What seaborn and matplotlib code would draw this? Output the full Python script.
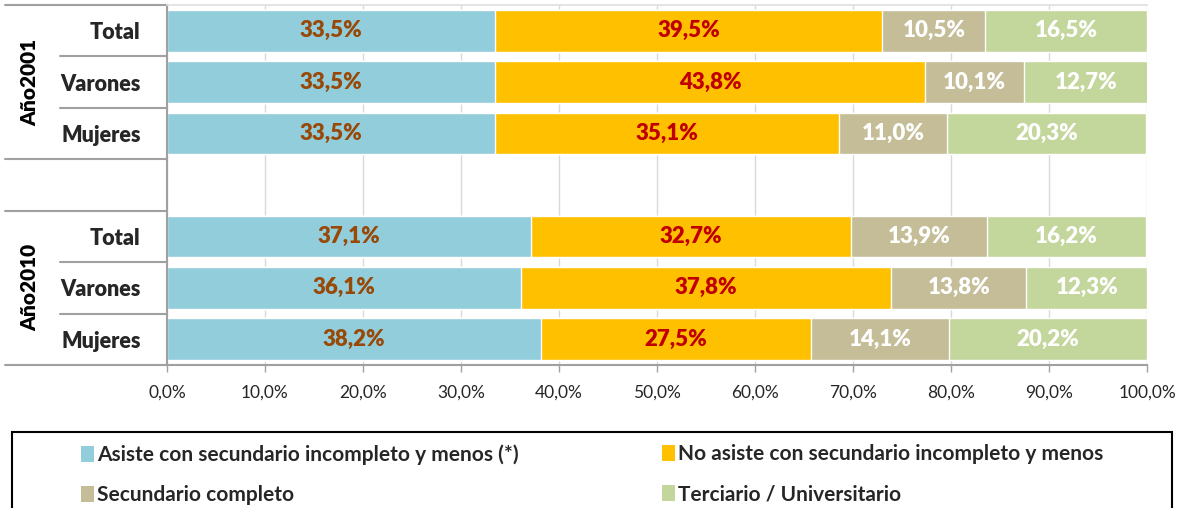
import matplotlib
matplotlib.use("Agg")
import matplotlib.pyplot as plt
import matplotlib.transforms as mtransforms
from matplotlib.patches import Patch, Rectangle
from matplotlib.ticker import FuncFormatter
import seaborn as sns
import pandas as pd
import numpy as np

# rows (top to bottom), the empty slot separates the two years
filas = ["2001 Total", "2001 Varones", "2001 Mujeres", "",
         "2010 Total", "2010 Varones", "2010 Mujeres"]
etiquetas_filas = ["Total", "Varones", "Mujeres", "", "Total", "Varones", "Mujeres"]
grupos = ["Año2001", "Año2010"]

series = ["Asiste con secundario incompleto y menos (*)",
          "No asiste con secundario incompleto y menos",
          "Secundario completo",
          "Terciario / Universitario"]
asiste = [33.5, 33.5, 33.5, 37.1, 36.1, 38.2]
no_asiste = [39.5, 43.8, 35.1, 32.7, 37.8, 27.5]
secundario = [10.5, 10.1, 11.0, 13.9, 13.8, 14.1]
terciario = [16.5, 12.7, 20.3, 16.2, 12.3, 20.2]

colores = ["#92CDDC", "#FFC000", "#C4BD97", "#C3D69B"]
colores_texto = ["#984807", "#C00000", "white", "white"]

sns.set_theme(style="white")
plt.rcParams["font.family"] = ["Lato", "DejaVu Sans"]

df = pd.DataFrame({
    "fila": [f for f in filas if f],
    series[0]: asiste,
    series[1]: no_asiste,
    series[2]: secundario,
    series[3]: terciario,
})
acum = df[series].cumsum(axis=1)

fig = plt.figure(figsize=(11.84, 5.08), dpi=100)
ax = fig.add_axes([167 / 1184, 1 - 365 / 508, 980 / 1184, 360 / 508])

# stacked bars: draw cumulative totals from the back to the front
for k in range(len(series) - 1, -1, -1):
    sns.barplot(data=pd.DataFrame({"fila": df["fila"], "x": acum[series[k]]}),
                x="x", y="fila", order=filas, color=colores[k], saturation=1,
                width=0.81, errorbar=None, orient="h", ax=ax)

# value labels in the middle of each segment
pos = {f: i for i, f in enumerate(filas)}
for j, fila in enumerate(df["fila"]):
    izquierda = 0
    for k, s in enumerate(series):
        v = df[s].iloc[j]
        ax.text(izquierda + v / 2, pos[fila], f"{v:.1f}%".replace(".", ","),
                ha="center", va="center", fontsize=16, fontweight="heavy",
                color=colores_texto[k])
        izquierda += v

ax.set_xlim(0, 100)
ax.set_ylim(len(filas) - 0.5, -0.5)
ax.set_xticks(np.arange(0, 101, 10))
ax.xaxis.set_major_formatter(FuncFormatter(lambda v, p: f"{v:.1f}%".replace(".", ",")))
ax.set_yticks(range(len(filas)))
ax.set_yticklabels(etiquetas_filas, fontsize=15.5, fontweight="heavy")
ax.set_xlabel("")
ax.set_ylabel("")
ax.tick_params(axis="y", length=0, pad=19)
ax.tick_params(axis="x", length=5, width=1, color="#A0A0A0", pad=9, labelsize=12.5,
               bottom=True)
ax.grid(axis="x", color="#D9D9D9", lw=1)
ax.set_axisbelow(True)
for lado in ["left", "bottom"]:
    ax.spines[lado].set_color("#A0A0A0")
    ax.spines[lado].set_linewidth(1.5)
ax.spines["top"].set_color("#E0E0E0")
ax.spines["right"].set_visible(False)

# separator lines of the category table on the left
trans = mtransforms.blended_transform_factory(fig.transFigure, ax.transData)
for yb in [-0.5, 0.5, 1.5, 2.5, 3.5, 4.5, 5.5, 6.5]:
    x0 = 60 / 1184 if yb in (0.5, 1.5, 4.5, 5.5) else 5 / 1184
    ax.plot([x0, 167 / 1184], [yb, yb], transform=trans, color="#A0A0A0",
            lw=1.5, clip_on=False)
for g, yc in zip(grupos, [1, 5]):
    ax.text(30 / 1184, yc, g, transform=trans, rotation=90, ha="center",
            va="center", fontsize=15, fontweight="heavy", color="black")

# legend in a box cut by the bottom edge
handles = [Patch(facecolor=c, edgecolor="none") for c in colores]
for cols, x in [([0, 2], 71), ([1, 3], 652)]:
    leg = fig.legend([handles[i] for i in cols], [series[i] for i in cols],
                     loc="upper left", bbox_to_anchor=(x / 1184, 1 - 434 / 508),
                     frameon=False, prop={"weight": "bold", "size": 15},
                     handlelength=0.6, handleheight=0.8, handletextpad=0.15,
                     labelspacing=0.95, borderpad=0)
fig.add_artist(Rectangle((12 / 1184, -0.02), 1160 / 1184, (508 - 432) / 508 + 0.02,
                         transform=fig.transFigure, fill=False, edgecolor="black",
                         lw=1.5, clip_on=False))

fig.savefig("out.png", dpi=100)
plt.close()
